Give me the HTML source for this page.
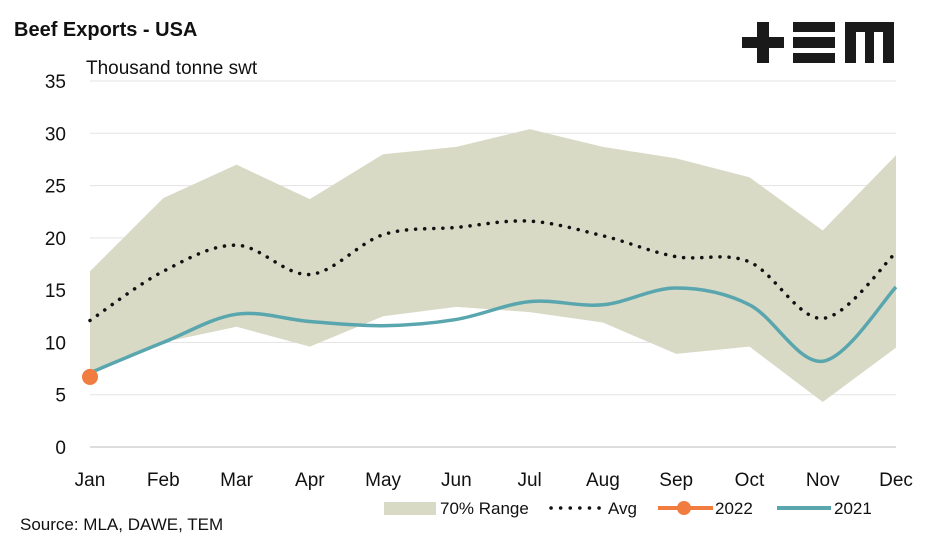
<!DOCTYPE html>
<html><head><meta charset="utf-8"><style>
body{margin:0;background:#fff;font-family:"Liberation Sans",sans-serif}
svg text{font-family:"Liberation Sans",sans-serif;fill:#111}
</style></head><body>
<svg id="c" width="933" height="541" xmlns="http://www.w3.org/2000/svg">
<text x="14" y="36" font-size="20" font-weight="bold">Beef Exports - USA</text>
<text x="86" y="74" font-size="19">Thousand tonne swt</text>
<g fill="#1a1a1a">
<rect x="742" y="37" width="42" height="11"/><rect x="757" y="22" width="12" height="41"/>
<rect x="793" y="22" width="42" height="10"/><rect x="793" y="37" width="42" height="11"/><rect x="793" y="53" width="42" height="10"/>
<path d="M845 22H894V63H883V32H874V63H865V32H856V63H845Z"/>
</g>
<g id="grid"></g><g id="marks"></g><g id="axes"></g>
<text x="20" y="530" font-size="17">Source: MLA, DAWE, TEM</text>
<g font-size="17">
<rect x="384" y="502" width="52" height="13" fill="#d8dac6"/>
<text x="440" y="514" font-size="17">70% Range</text>
<line x1="551" y1="508" x2="600" y2="508" stroke="#111" stroke-width="3.5" stroke-dasharray="0.1 9.5" stroke-linecap="round"/>
<text x="608" y="514">Avg</text>
<line x1="658" y1="508" x2="713" y2="508" stroke="#f07d3f" stroke-width="4"/>
<circle cx="684" cy="508" r="7" fill="#f07d3f"/>
<text x="715" y="514">2022</text>
<line x1="777" y1="508" x2="831" y2="508" stroke="#5aa6ae" stroke-width="4"/>
<text x="834" y="514">2021</text>
</g>
</svg>
<script>
const months=["Jan","Feb","Mar","Apr","May","Jun","Jul","Aug","Sep","Oct","Nov","Dec"];
const yTicks=[0,5,10,15,20,25,30,35];
const rangeUpper=[16.8,23.8,27,23.7,28,28.7,30.4,28.7,27.6,25.8,20.7,27.9];
const rangeLower=[7.3,10,11.5,9.6,12.5,13.4,12.9,11.9,8.9,9.6,4.3,9.5];
const avg=[12.1,16.8,19.3,16.5,20.3,21,21.6,20.2,18.2,17.7,12.3,18.6];
const s2021=[7.1,10,12.7,12,11.6,12.2,13.9,13.6,15.2,13.6,8.2,15.3];
const s2022=[6.7];
const NS="http://www.w3.org/2000/svg";
const X=i=>90+i*(806/11), Y=v=>447-v*(366/35);
function mk(t,a,p){const e=document.createElementNS(NS,t);for(const k in a)e.setAttribute(k,a[k]);document.getElementById(p).appendChild(e);return e;}
function smooth(vals){const p=vals.map((v,i)=>[X(i),Y(v)]);let d="M"+p[0];for(let i=0;i<p.length-1;i++){const p0=p[i-1]||p[i],p1=p[i],p2=p[i+1],p3=p[i+2]||p2;const t=6;d+=`C${p1[0]+(p2[0]-p0[0])/t},${p1[1]+(p2[1]-p0[1])/t} ${p2[0]-(p3[0]-p1[0])/t},${p2[1]-(p3[1]-p1[1])/t} ${p2[0]},${p2[1]}`;}return d;}
yTicks.forEach(v=>{
const l=mk("line",{x1:90,x2:896,y1:Y(v),y2:Y(v),stroke:v===0?"#bbb":"#e3e3e3","stroke-width":1},"grid");


const t=mk("text",{x:66,y:Y(v)+7,"font-size":19,"text-anchor":"end"},"axes");t.textContent=v;


});
months.forEach((m,i)=>{const t=mk("text",{x:X(i),y:486,"font-size":19,"text-anchor":"middle"},"axes");t.textContent=m;

});
let d="M"+rangeUpper.map((v,i)=>X(i)+","+Y(v)).join("L")+"L"+rangeLower.map((v,i)=>[X(i),Y(v)]).reverse().map(p=>p.join(",")).join("L")+"Z";
const a=mk("path",{d,fill:"#d8dac6"},"marks");


const av=mk("path",{d:smooth(avg),fill:"none",stroke:"#111","stroke-width":3.5,"stroke-dasharray":"0.1 9","stroke-linecap":"round"},"marks");


const l21=mk("path",{d:smooth(s2021),fill:"none",stroke:"#5aa6ae","stroke-width":3.5},"marks");


s2022.forEach((v,i)=>{const c=mk("circle",{cx:X(i),cy:Y(v),r:8,fill:"#f07d3f"},"marks");

});
</script>
</body></html>
